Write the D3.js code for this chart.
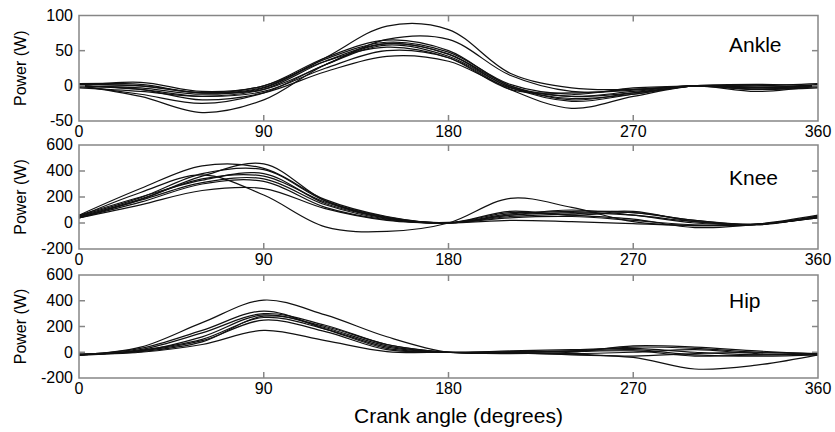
<!doctype html>
<html lang="en">
<head>
  <meta charset="utf-8">
  <title>Joint power vs crank angle</title>
  <script src="https://d3js.org/d3.v7.min.js"></script>
  <style>
    body { margin: 0; background: #fff; }
    svg { font-family: "Liberation Sans", Arial, sans-serif; }
  </style>
</head>
<body>
  <div class="canva"></div>
  <script>
    const angles = [0, 30, 60, 90, 120, 150, 180, 210, 240, 270, 300, 330, 360];
    const xTicks = [0, 90, 180, 270, 360];

    // ankle power (W), one row per trial
    const ankle = [
      [0, -3, -12, -3, 40, 85, 80, 18, -3, -5, 0, -5, 0],
      [2, 0, -10, -5, 30, 66, 66, 15, -8, -6, 0, -3, 2],
      [0, 5, -8, 0, 40, 65, 50, 0, -15, -10, 0, 2, 0],
      [-3, -8, -15, -5, 35, 60, 45, -2, -18, -12, 0, -5, -3],
      [0, -15, -38, -20, 30, 60, 45, 0, -20, -10, 0, -2, 0],
      [0, -5, -15, -8, 25, 50, 40, -5, -32, -15, 0, -3, 0],
      [3, 2, -10, 0, 35, 55, 40, -5, -10, -5, 0, 0, 3],
      [0, -5, -20, -10, 20, 42, 35, -3, -15, -8, 0, -8, 0],
      [-2, 0, -10, -2, 38, 62, 48, 2, -12, -3, 0, 0, -2],
      [0, -12, -25, -10, 30, 58, 42, -2, -22, -12, 0, -5, 0]
    ];
    const ankleTicks = [-50, 0, 50, 100];

    // knee power (W)
    const knee = [
      [60, 265, 440, 420, 180, 50, 0, 60, 80, 60, 10, -10, 50],
      [40, 180, 360, 455, 170, 40, 0, 90, 60, 80, 20, -10, 50],
      [50, 235, 370, 215, -30, -65, 0, 190, 120, 10, -20, -10, 40],
      [40, 140, 250, 265, 110, 20, 0, 20, 10, -5, -20, -10, 40],
      [50, 175, 310, 340, 140, 30, 0, 70, 90, 80, 20, -15, 50],
      [60, 200, 330, 380, 150, 40, 0, 80, 60, 30, -35, -10, 60],
      [45, 185, 340, 360, 160, 35, 5, 60, 100, 60, 0, -10, 45],
      [55, 195, 380, 410, 170, 45, 0, 50, 70, 90, 10, -10, 55],
      [40, 160, 300, 320, 120, 25, 0, 40, 50, 20, -15, -10, 45]
    ];
    const kneeTicks = [-200, 0, 200, 400, 600];

    // hip power (W)
    const hip = [
      [-20, 40, 230, 405, 290, 120, 0, 0, 10, 40, 30, 0, -15],
      [-20, 20, 150, 300, 210, 60, 0, -10, 0, 50, 40, 10, -15],
      [-15, 10, 120, 290, 190, 50, 0, 10, 20, 30, 0, -20, -15],
      [-20, 0, 60, 170, 90, 5, 0, -5, -20, -40, -130, -100, -20],
      [-25, 15, 100, 270, 180, 40, 0, 0, -10, 0, 20, -10, -20],
      [-15, 5, 80, 280, 200, 60, 0, 5, 10, 20, -20, -30, -20],
      [-20, 30, 170, 320, 180, 30, 0, -5, -15, -30, -10, 0, -10],
      [-20, 10, 90, 250, 160, 20, 0, 0, 5, 10, -30, -20, -15]
    ];
    const hipTicks = [-200, 0, 200, 400, 600];

    const panels = [
      { name: "Ankle", curves: ankle, ticks: ankleTicks, top: 15.5, bottom: 121, labelY: 52 },
      { name: "Knee", curves: knee, ticks: kneeTicks, top: 145, bottom: 249, labelY: 185 },
      { name: "Hip", curves: hip, ticks: hipTicks, top: 275, bottom: 378, labelY: 308 }
    ];

    const left = 79, right = 818;
    const svg = d3.select(".canva").append("svg")
      .attr("width", 835)
      .attr("height", 432);

    const x = d3.scaleLinear().domain([0, 360]).range([left, right]);
    const frameColor = "#868686";

    panels.forEach(function (p) {
      const lo = p.ticks[0], hi = p.ticks[p.ticks.length - 1];
      const y = d3.scaleLinear().domain([lo, hi]).range([p.bottom, p.top]);
      const g = svg.append("g");

      const line = d3.line()
        .x(function (d, i) { return x(angles[i]); })
        .y(function (d) { return y(d); })
        .curve(d3.curveCatmullRom.alpha(0.5));

      g.selectAll("path.trial")
        .data(p.curves)
        .enter().append("path")
        .attr("class", "trial")
        .attr("d", line)
        .attr("fill", "none")
        .attr("stroke", "#111")
        .attr("stroke-width", 1.2);

      // frame
      g.append("rect")
        .attr("x", left).attr("y", p.top)
        .attr("width", right - left).attr("height", p.bottom - p.top)
        .attr("fill", "none")
        .attr("stroke", frameColor)
        .attr("stroke-width", 1.5);

      // inside ticks, x
      const inner = xTicks.slice(1, -1);
      inner.forEach(function (t) {
        g.append("line").attr("x1", x(t)).attr("x2", x(t))
          .attr("y1", p.top).attr("y2", p.top + 6)
          .attr("stroke", frameColor).attr("stroke-width", 1.5);
        g.append("line").attr("x1", x(t)).attr("x2", x(t))
          .attr("y1", p.bottom).attr("y2", p.bottom - 6)
          .attr("stroke", frameColor).attr("stroke-width", 1.5);
      });
      // inside ticks, y
      p.ticks.slice(1, -1).forEach(function (t) {
        g.append("line").attr("x1", left).attr("x2", left + 6)
          .attr("y1", y(t)).attr("y2", y(t))
          .attr("stroke", frameColor).attr("stroke-width", 1.5);
        g.append("line").attr("x1", right).attr("x2", right - 6)
          .attr("y1", y(t)).attr("y2", y(t))
          .attr("stroke", frameColor).attr("stroke-width", 1.5);
      });

      // tick labels
      g.selectAll("text.xt")
        .data(xTicks)
        .enter().append("text")
        .attr("class", "xt")
        .attr("x", function (d) { return x(d); })
        .attr("y", p.bottom + 16)
        .attr("text-anchor", "middle")
        .attr("font-size", 16)
        .text(function (d) { return d; });

      g.selectAll("text.yt")
        .data(p.ticks)
        .enter().append("text")
        .attr("class", "yt")
        .attr("x", 73)
        .attr("y", function (d) { return y(d); })
        .attr("dy", "0.33em")
        .attr("text-anchor", "end")
        .attr("font-size", 16)
        .text(function (d) { return d; });

      g.append("text")
        .attr("transform", "translate(26," + ((p.top + p.bottom) / 2) + ") rotate(-90)")
        .attr("text-anchor", "middle")
        .attr("font-size", 16)
        .text("Power (W)");

      g.append("text")
        .attr("x", 729)
        .attr("y", p.labelY)
        .attr("font-size", 21)
        .text(p.name);
    });

    svg.append("text")
      .attr("x", (left + right) / 2 + 10)
      .attr("y", 423)
      .attr("text-anchor", "middle")
      .attr("font-size", 21)
      .text("Crank angle (degrees)");
  </script>
</body>
</html>
